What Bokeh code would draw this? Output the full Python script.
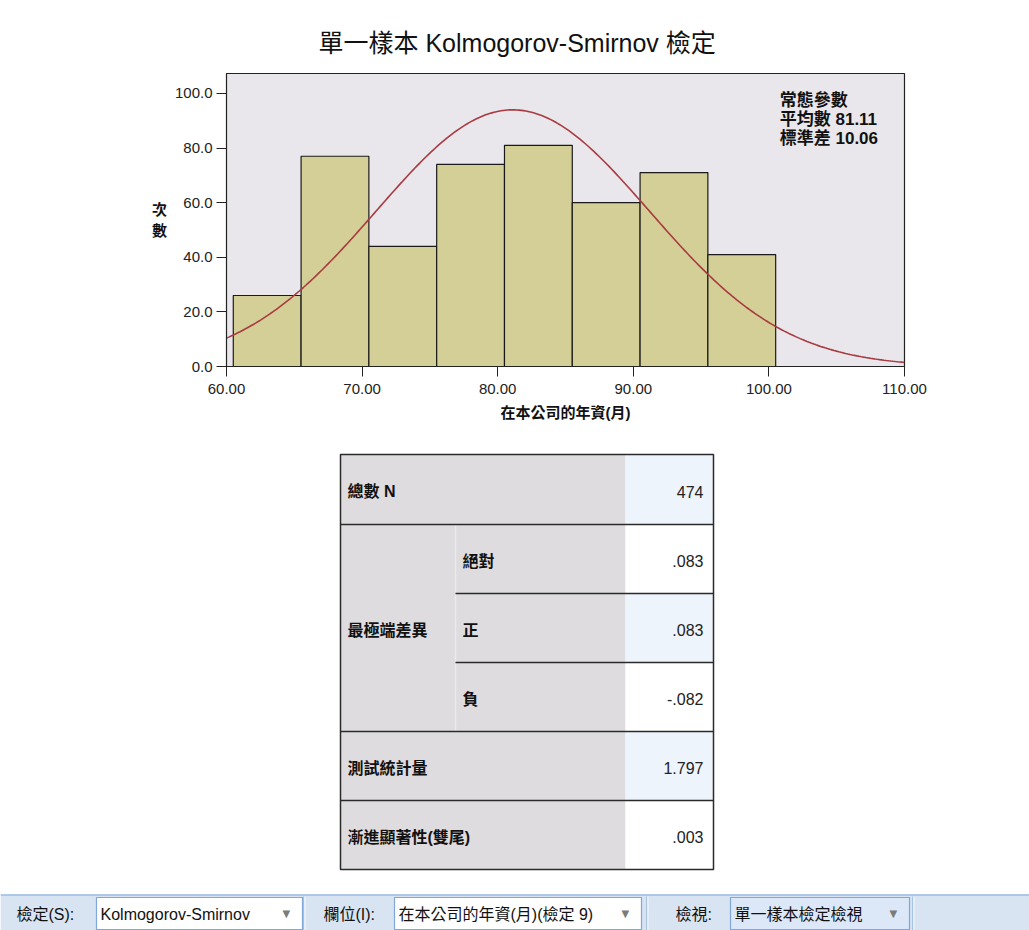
import numpy as np
from bokeh.plotting import figure
from bokeh.layouts import column
from bokeh.models import Range1d, FixedTicker, NumeralTickFormatter, Label
from bokeh.core.properties import value
from bokeh.embed import file_html
from bokeh.resources import INLINE

# ---------------- data ----------------
bin_left = [60.5, 65.5, 70.5, 75.5, 80.5, 85.5, 90.5, 95.5]
bin_width = 5.0
counts = [26, 77, 44, 74, 81, 60, 71, 41]
n_total = 474
mean_val = 81.11
sd_val = 10.06
x_ticks = [60, 70, 80, 90, 100, 110]
y_ticks = [0, 20, 40, 60, 80, 100]
title_text = "單一樣本 Kolmogorov-Smirnov 檢定"
x_label = "在本公司的年資(月)"
y_label = "次數"
legend_title = "常態參數"
legend_mean_label = "平均數"
legend_sd_label = "標準差"
table_row_labels = ["總數 N", "最極端差異", "測試統計量", "漸進顯著性(雙尾)"]
table_sub_labels = ["絕對", "正", "負"]
table_values = ["474", ".083", ".083", "-.082", "1.797", ".003"]
toolbar_labels = ["檢定(S):", "欄位(I):", "檢視:"]
toolbar_choices = ["Kolmogorov-Smirnov", "在本公司的年資(月)(檢定 9)", "單一樣本檢定檢視"]

FONT = "Liberation Sans, Noto Sans CJK TC"
W = 1029

# ---------------- histogram figure ----------------
p = figure(width=W, height=448,
           x_range=Range1d(60, 110), y_range=Range1d(0, 107.3),
           output_backend="svg", toolbar_location=None,
           min_border_left=226, min_border_right=125,
           min_border_top=73, min_border_bottom=82,
           background_fill_color="#E9E7EC", border_fill_color="white",
           outline_line_color="#222222", outline_line_width=1.2)
p.frame_align = False
p.grid.visible = False

p.title.text = title_text
p.title.text_font = FONT
p.title.text_font_size = "25px"
p.title.text_font_style = "normal"
p.title.text_color = "#111111"
p.title.align = "left"
p.title.offset = 92
p.title.standoff = 34

for ax in (p.xaxis[0], p.yaxis[0]):
    ax.major_tick_out = 10
    ax.major_tick_in = 0
    ax.minor_tick_out = 0
    ax.minor_tick_in = 0
    ax.axis_line_color = "#222222"
    ax.major_tick_line_color = "#222222"
    ax.major_label_text_font = FONT
    ax.major_label_text_font_size = "15px"
    ax.major_label_text_color = "#222222"
    ax.axis_label_text_font = FONT
    ax.axis_label_text_font_size = "15px"
    ax.axis_label_text_font_style = "bold"
    ax.axis_label_text_color = "#111111"

p.xaxis.ticker = FixedTicker(ticks=x_ticks)
p.xaxis.formatter = NumeralTickFormatter(format="0.00")
p.xaxis.major_label_standoff = 7
p.xaxis.axis_label = x_label
p.xaxis.axis_label_standoff = 7

p.yaxis.ticker = FixedTicker(ticks=y_ticks)
p.yaxis.formatter = NumeralTickFormatter(format="0.0")
p.yaxis.major_label_standoff = 4
p.yaxis.axis_label = "\n".join(list(y_label))
p.yaxis.axis_label_orientation = "horizontal"
p.yaxis.axis_label_standoff = 5

bin_right = [l + bin_width for l in bin_left]
p.quad(left=bin_left, right=bin_right, bottom=0, top=counts,
       fill_color="#D4CF96", line_color="#1A1A1A", line_width=1.2)

xs = np.linspace(60, 110, 300)
ys = n_total * bin_width / (sd_val * np.sqrt(2 * np.pi)) * np.exp(-0.5 * ((xs - mean_val) / sd_val) ** 2)
p.line(xs, ys, line_color="#A83A40", line_width=1.6)

legend_text = "\n".join([legend_title,
                         f"{legend_mean_label} {mean_val:.2f}",
                         f"{legend_sd_label} {sd_val:.2f}"])
p.add_layout(Label(x=100.8, y=101.0, text=legend_text, text_baseline="top",
                   text_align="left", text_font=FONT, text_font_size="17px",
                   text_font_style="bold", text_color="#111111", text_line_height=1.02))

# ---------------- table + toolbar figure (screen-pixel coordinates) ----------------
q = figure(width=W, height=482, x_range=Range1d(0, W), y_range=Range1d(930, 448),
           output_backend="svg", toolbar_location=None, min_border=0,
           x_axis_type=None, y_axis_type=None,
           background_fill_color="white", border_fill_color="white",
           outline_line_color=None)
q.frame_align = False
q.grid.visible = False

TX0, TX1, TX2, TX3 = 340, 455, 625, 713
row_edges = [454, 524, 593, 662, 731, 800, 869]

# gray label area
q.quad(left=TX0, right=TX2, top=row_edges[0], bottom=row_edges[-1],
       fill_color="#DEDCDF", line_color=None)
# value cells, alternating blue / white
val_fill = ["#EEF4FC" if i % 2 == 0 else "#FFFFFF" for i in range(len(table_values))]
q.quad(left=[TX2] * len(table_values), right=[TX3] * len(table_values),
       top=row_edges[:-1], bottom=row_edges[1:], fill_color=val_fill, line_color=None)
# faint divider between merged label and sub-labels
q.segment(x0=[TX1], y0=[row_edges[1]], x1=[TX1], y1=[row_edges[4]],
          line_color="#EAE9EB", line_width=1.5)
# full-width horizontal rules
full_rows = [row_edges[1], row_edges[4], row_edges[5]]
q.segment(x0=[TX0] * 3, y0=full_rows, x1=[TX3] * 3, y1=full_rows,
          line_color="#2A2A2A", line_width=1.3)
# sub-row rules
sub_rows = [row_edges[2], row_edges[3]]
q.segment(x0=[TX1] * 2, y0=sub_rows, x1=[TX3] * 2, y1=sub_rows,
          line_color="#2A2A2A", line_width=1.3)
# outer border
q.quad(left=TX0, right=TX3, top=row_edges[0], bottom=row_edges[-1],
       fill_color=None, line_color="#2A2A2A", line_width=1.5)

centers = [(row_edges[i] + row_edges[i + 1]) / 2 + 2 for i in range(6)]
label_y = [centers[0], (row_edges[1] + row_edges[4]) / 2 + 2, centers[4], centers[5]]
q.text(x=[TX0 + 7] * 4, y=label_y, text=table_row_labels,
       text_font=value(FONT), text_font_size="16px", text_baseline="middle",
       text_align="left", text_color="#111111", text_font_style="bold")
q.text(x=[TX1 + 7] * 3, y=centers[1:4], text=table_sub_labels,
       text_font=value(FONT), text_font_size="16px", text_baseline="middle",
       text_align="left", text_color="#111111", text_font_style="bold")
q.text(x=[TX3 - 10] * 6, y=centers, text=table_values,
       text_font=value(FONT), text_font_size="16px", text_baseline="middle",
       text_align="right", text_color="#222222")

# toolbar strip
q.quad(left=0, right=W, top=894, bottom=930, fill_color="#D9E4F3", line_color=None)
q.segment(x0=[0], y0=[894.5], x1=[W], y1=[894.5], line_color="#9DBDE6", line_width=1.5)
seps = [303, 646, 912]
q.segment(x0=seps, y0=[896] * 3, x1=seps, y1=[930] * 3, line_color="#A9C3E4", line_width=1)
q.segment(x0=[s + 1.5 for s in seps], y0=[896] * 3, x1=[s + 1.5 for s in seps], y1=[930] * 3,
          line_color="#F2F6FC", line_width=1)

box_left = [96, 394, 730]
box_right = [302, 641, 909]
box_fill = ["#FFFFFF", "#FFFFFF", "#DCE8F8"]
q.quad(left=box_left, right=box_right, top=[897] * 3, bottom=[929] * 3,
       fill_color=box_fill, line_color="#7FA7DA", line_width=1.2)
q.text(x=[16, 323, 675], y=[914] * 3, text=toolbar_labels,
       text_font=value(FONT), text_font_size="16px", text_baseline="middle",
       text_align="left", text_color="#111111")
q.text(x=[b + 4 for b in box_left], y=[914] * 3, text=toolbar_choices,
       text_font=value(FONT), text_font_size="16px", text_baseline="middle",
       text_align="left", text_color="#111111")
q.text(x=[r - 20 for r in box_right], y=[913] * 3, text=["▼"] * 3,
       text_font=value("DejaVu Sans"), text_font_size="10px", text_baseline="middle",
       text_align="left", text_color="#7A7A7A")

layout = column(p, q, spacing=0)
open("out.html", "w").write(file_html(layout, INLINE))
